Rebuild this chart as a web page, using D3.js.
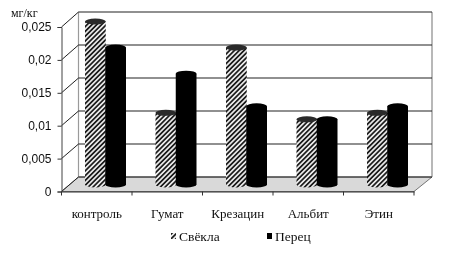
<!DOCTYPE html>
<html>
<head>
<meta charset="utf-8">
<script src="https://cdn.jsdelivr.net/npm/d3@7/dist/d3.min.js"></script>
<style>
  html, body { margin: 0; padding: 0; background: #fff; }
  svg { display: block; }
</style>
</head>
<body>
<div id="chart"></div>
<script>
// Chart data
var categories = ["контроль", "Гумат", "Крезацин", "Альбит", "Этин"];
var seriesNames = ["Свёкла", "Перец"];
var svekla = [0.025, 0.011, 0.021, 0.01, 0.011];
var perec = [0.021, 0.017, 0.012, 0.01, 0.012];
var yTicks = [0, 0.005, 0.01, 0.015, 0.02, 0.025];

var width = 452, height = 255;
var depthX = 17, depthY = 15;

var svg = d3.select("#chart").append("svg")
    .attr("width", width)
    .attr("height", height);

// Hatch for the first series
var defs = svg.append("defs");
var pat = defs.append("pattern")
    .attr("id", "hatch")
    .attr("patternUnits", "userSpaceOnUse")
    .attr("width", 3.4)
    .attr("height", 3.4)
    .attr("patternTransform", "rotate(45)");
pat.append("rect").attr("width", 3.4).attr("height", 3.4).attr("fill", "#e8e8e8");
pat.append("rect").attr("width", 1.7).attr("height", 3.4).attr("fill", "#1c1c1c");

defs.append("filter").attr("id", "soft")
    .append("feGaussianBlur").attr("stdDeviation", 0.4);

var root = svg.append("g").attr("filter", "url(#soft)");

// Scales: front axis, back wall, and the bars that stand in between
var x = d3.scaleBand().domain(categories).range([61.5, 414]).padding(0);
var yFront = d3.scaleLinear().domain([0, 0.025]).range([191.5, 27]);
var yWall = d3.scaleLinear().domain([0, 0.025]).range([177, 12]);
var yBar = d3.scaleLinear().domain([0, 0.025]).range([184.5, 21.5]);
var inner = d3.scaleBand().domain(seriesNames).range([23.5, 64]).padding(0);

var x0 = x.range()[0], x1 = x.range()[1];

// Floor
root.append("polygon")
    .attr("points", [
        [x0, yFront(0)], [x0 + depthX, yWall(0)],
        [x1 + depthX + 1, yWall(0)], [x1, yFront(0)]
    ].join(" "))
    .attr("fill", "#d9d9d9")
    .attr("stroke", "#555")
    .attr("stroke-width", 0.8);

// Wall borders
root.append("line")
    .attr("x1", x0 + depthX).attr("x2", x0 + depthX)
    .attr("y1", yWall(0.025)).attr("y2", yWall(0))
    .attr("stroke", "#9a9a9a").attr("stroke-width", 1.2);
root.append("line")
    .attr("x1", x1 + depthX + 1).attr("x2", x1 + depthX + 1)
    .attr("y1", yWall(0.025)).attr("y2", yWall(0))
    .attr("stroke", "#9a9a9a").attr("stroke-width", 1.4);

// Gridlines on the wall, and the slanted bits on the side
root.selectAll(".grid")
    .data(yTicks)
    .enter().append("line")
    .attr("class", "grid")
    .attr("x1", x0 + depthX).attr("x2", x1 + depthX + 1)
    .attr("y1", function(d) { return yWall(d); })
    .attr("y2", function(d) { return yWall(d); })
    .attr("stroke", "#222")
    .attr("stroke-width", 1.2);

root.selectAll(".side")
    .data(yTicks)
    .enter().append("line")
    .attr("class", "side")
    .attr("x1", x0).attr("x2", x0 + depthX)
    .attr("y1", function(d) { return yFront(d); })
    .attr("y2", function(d) { return yWall(d); })
    .attr("stroke", "#222")
    .attr("stroke-width", 1);

// Cylinders
function drawBars(values, name, fill, topFill) {
    var g = root.append("g");
    var w = inner.bandwidth() + 0.5;
    categories.forEach(function(c, i) {
        var left = x(c) + inner(name);
        var top = yBar(values[i]), bottom = yBar(0);
        g.append("path")
            .attr("d", "M" + left + "," + top
                + " L" + left + "," + bottom
                + " A" + (w / 2) + ",3 0 0 0 " + (left + w) + "," + bottom
                + " L" + (left + w) + "," + top + " Z")
            .attr("fill", fill);
        g.append("ellipse")
            .attr("cx", left + w / 2)
            .attr("cy", top)
            .attr("rx", w / 2)
            .attr("ry", 3)
            .attr("fill", topFill);
    });
}
drawBars(svekla, seriesNames[0], "url(#hatch)", "#2a2a2a");
drawBars(perec, seriesNames[1], "#000", "#000");

// Front axes
var axisY = d3.axisLeft(yFront)
    .tickValues(yTicks)
    .tickSize(4)
    .tickPadding(6)
    .tickFormat(function(d) { return String(+d.toFixed(3)).replace(".", ","); });
var gy = root.append("g")
    .attr("transform", "translate(" + x0 + ",0)")
    .call(axisY);
gy.select(".domain").attr("stroke", "#444");
gy.selectAll(".tick line").attr("stroke", "#333");
gy.selectAll("text")
    .attr("fill", "#111")
    .style("font-family", "'Liberation Sans', Arial, sans-serif")
    .style("font-size", "12px");

var axisX = d3.axisBottom(x).tickSize(0).tickPadding(17);
var gx = root.append("g")
    .attr("transform", "translate(0," + yFront(0) + ")")
    .call(axisX);
gx.select(".domain").attr("stroke", "#333");
gx.selectAll("text")
    .attr("fill", "#111")
    .style("font-family", "'Liberation Serif', 'Times New Roman', serif")
    .style("font-size", "13px");

// Boundary ticks between the categories
root.selectAll(".xtick")
    .data(categories.concat([null]))
    .enter().append("line")
    .attr("class", "xtick")
    .attr("x1", function(d) { return d === null ? x1 : x(d); })
    .attr("x2", function(d) { return d === null ? x1 : x(d); })
    .attr("y1", yFront(0))
    .attr("y2", yFront(0) + 4)
    .attr("stroke", "#333");

// Unit label
root.append("text")
    .attr("x", 11).attr("y", 17)
    .attr("fill", "#111")
    .style("font-family", "'Liberation Serif', 'Times New Roman', serif")
    .style("font-size", "12px")
    .text("мг/кг");

// Legend
var legendX = [171, 267];
seriesNames.forEach(function(name, i) {
    root.append("rect")
        .attr("x", legendX[i]).attr("y", 233)
        .attr("width", 5).attr("height", 6)
        .attr("fill", i === 0 ? "url(#hatch)" : "#000");
    root.append("text")
        .attr("x", legendX[i] + 8).attr("y", 241)
        .attr("fill", "#111")
        .style("font-family", "'Liberation Serif', 'Times New Roman', serif")
        .style("font-size", "13.5px")
        .text(name);
});
</script>
</body>
</html>
